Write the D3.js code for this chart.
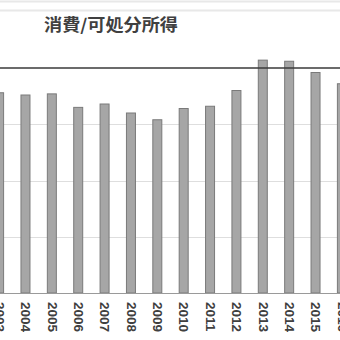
<!DOCTYPE html>
<html><head><meta charset="utf-8">
<script src="https://cdn.jsdelivr.net/npm/d3@7/dist/d3.min.js"></script>
<style>body{margin:0;background:#fff}svg{display:block}</style>
</head><body>
<script>
const years = ["2003","2004","2005","2006","2007","2008","2009","2010","2011","2012","2013","2014","2015","2016"];
const ratio = [0.978,0.976,0.977,0.965,0.968,0.960,0.954,0.964,0.966,0.980,1.007,1.006,0.996,0.986];
const gridTicks = [0.85,0.90,0.95];
const refLine = 1.00;
const title = "消費/可処分所得";

const W=340,H=340;
const svg=d3.select("body").append("svg").attr("width",W).attr("height",H);
svg.append("rect").attr("width",W).attr("height",H).attr("fill","#fff");

// top frame lines
svg.append("line").attr("x1",0).attr("x2",W).attr("y1",1.5).attr("y2",1.5).attr("stroke","#e8e8e8").attr("stroke-width",2);
svg.append("line").attr("x1",0).attr("x2",W).attr("y1",10.5).attr("y2",10.5).attr("stroke","#e8e8e8").attr("stroke-width",2);

const x=d3.scalePoint().domain(years).range([-0.9,341.9]);
const y=d3.scaleLinear().domain([0.80,1.00]).range([293,68]);

// gridlines
svg.append("g").selectAll("line").data(gridTicks).join("line")
  .attr("x1",0).attr("x2",W).attr("y1",d=>Math.round(y(d))+0.5).attr("y2",d=>Math.round(y(d))+0.5)
  .attr("stroke","#dedede").attr("stroke-width",1);

// bars
const bw=10;
svg.append("g").selectAll("rect").data(years).join("rect")
  .attr("x",d=>x(d)-bw/2+0.5).attr("width",bw-1)
  .attr("y",(d,i)=>y(ratio[i])).attr("height",(d,i)=>y(0.80)-y(ratio[i]))
  .attr("fill","#a6a6a6").attr("stroke","#7a7a7a").attr("stroke-width",1);

// reference line
svg.append("line").attr("x1",0).attr("x2",W).attr("y1",y(refLine)).attr("y2",y(refLine))
  .attr("stroke","#3a3a3a").attr("stroke-width",1.5);

// baseline
svg.append("line").attr("x1",0).attr("x2",W).attr("y1",293.5).attr("y2",293.5)
  .attr("stroke","#9a9a9a").attr("stroke-width",1);

// x labels
const xAxis=d3.axisBottom(x).tickSize(0).tickPadding(0);
const gx=svg.append("g").attr("transform","translate(0,293)").call(xAxis);
gx.select(".domain").remove();
gx.selectAll("text")
  .attr("transform","rotate(90)")
  .attr("x",9).attr("y",0).attr("dy","0.35em")
  .attr("text-anchor","start")
  .attr("font-family","'Liberation Sans', Arial, sans-serif")
  .attr("font-weight","bold").attr("font-size",13.5)
  .attr("fill","#404040");

// title
svg.append("text").attr("x",44).attr("y",31).text(title)
  .attr("font-family","'Noto Sans CJK JP', sans-serif").attr("font-weight","bold")
  .attr("font-size",16.5).attr("fill","#404040")
  .attr("textLength",134).attr("lengthAdjust","spacingAndGlyphs");
</script>
</body></html>
